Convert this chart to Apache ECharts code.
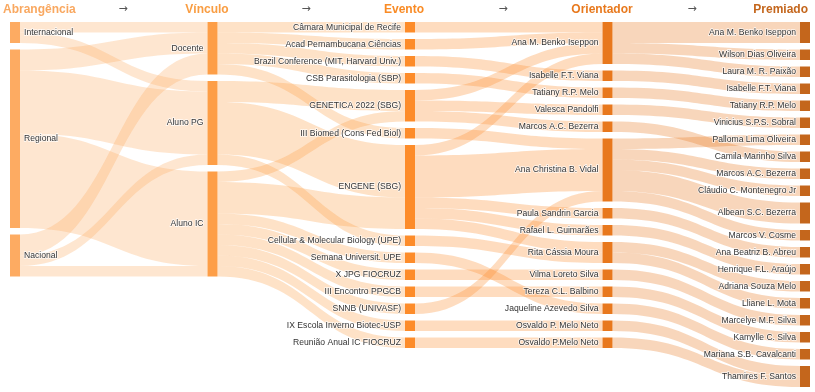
<!DOCTYPE html>
<html><head><meta charset="utf-8">
<script src="https://cdn.jsdelivr.net/npm/echarts@6/dist/echarts.min.js"></script>
<style>html,body{margin:0;padding:0;background:#fff}#c{width:815px;height:392px}</style>
</head><body><div id="c"></div>
<script>
const headers = ['Abrangência', 'Vínculo', 'Evento', 'Orientador', 'Premiado'];
const abrangencia = ['Internacional', 'Regional', 'Nacional'];
const vinculo = ['Docente', 'Aluno PG', 'Aluno IC'];
const evento = ['Câmara Municipal de Recife', 'Acad Pernambucana Ciências', 'Brazil Conference (MIT, Harvard Univ.)',
  'CSB Parasitologia (SBP)', 'GENETICA 2022 (SBG)', 'III Biomed (Cons Fed Biol)', 'ENGENE (SBG)',
  'Cellular & Molecular Biology (UPE)', 'Semana Universit. UPE', 'X JPG FIOCRUZ', 'III Encontro PPGCB',
  'SNNB (UNIVASF)', 'IX Escola Inverno Biotec-USP', 'Reunião Anual IC FIOCRUZ'];
const orientador = ['Ana M. Benko Iseppon', 'Isabelle F.T. Viana', 'Tatiany R.P. Melo', 'Valesca Pandolfi',
  'Marcos A.C. Bezerra', 'Ana Christina B. Vidal', 'Paula Sandrin Garcia', 'Rafael L. Guimarães',
  'Rita Cássia Moura', 'Vilma Loreto Silva', 'Tereza C.L. Balbino', 'Jaqueline Azevedo Silva',
  'Osvaldo P. Melo Neto', 'Osvaldo P.Melo Neto'];
const premiado = ['Ana M. Benko Iseppon', 'Wilson Dias Oliveira', 'Laura M. R. Paixão', 'Isabelle F.T. Viana',
  'Tatiany R.P. Melo', 'Vinicius S.P.S. Sobral', 'Palloma Lima Oliveira', 'Camila Marinho Silva',
  'Marcos A.C. Bezerra', 'Cláudio C. Montenegro Jr', 'Albean S.C. Bezerra', 'Marcos V. Cosme',
  'Ana Beatriz B. Abreu', 'Henrique F.L. Araújo', 'Adriana Souza Melo', 'Lliane L. Mota',
  'Marcelye M.F. Silva', 'Kamylle C. Silva', 'Mariana S.B. Cavalcanti', 'Thamires F. Santos'];

// [source, target, value]
const linksAbrVin = [
  ['Internacional', 'Docente', 1], ['Internacional', 'Aluno PG', 1],
  ['Regional', 'Docente', 2], ['Regional', 'Aluno PG', 6], ['Regional', 'Aluno IC', 9],
  ['Nacional', 'Docente', 2], ['Nacional', 'Aluno PG', 1], ['Nacional', 'Aluno IC', 1]
];
const linksVinEve = [
  ['Docente', 'Câmara Municipal de Recife', 1], ['Docente', 'Acad Pernambucana Ciências', 1],
  ['Docente', 'Brazil Conference (MIT, Harvard Univ.)', 1], ['Docente', 'CSB Parasitologia (SBP)', 1],
  ['Docente', 'III Biomed (Cons Fed Biol)', 1],
  ['Aluno PG', 'GENETICA 2022 (SBG)', 2], ['Aluno PG', 'ENGENE (SBG)', 5],
  ['Aluno PG', 'Cellular & Molecular Biology (UPE)', 1],
  ['Aluno IC', 'GENETICA 2022 (SBG)', 1], ['Aluno IC', 'ENGENE (SBG)', 3],
  ['Aluno IC', 'Semana Universit. UPE', 1], ['Aluno IC', 'X JPG FIOCRUZ', 1],
  ['Aluno IC', 'III Encontro PPGCB', 1], ['Aluno IC', 'SNNB (UNIVASF)', 1],
  ['Aluno IC', 'IX Escola Inverno Biotec-USP', 1], ['Aluno IC', 'Reunião Anual IC FIOCRUZ', 1]
];
const linksEveOri = [
  ['Câmara Municipal de Recife', 'Ana M. Benko Iseppon', 1], ['Acad Pernambucana Ciências', 'Ana M. Benko Iseppon', 1],
  ['Brazil Conference (MIT, Harvard Univ.)', 'Isabelle F.T. Viana', 1], ['CSB Parasitologia (SBP)', 'Tatiany R.P. Melo', 1],
  ['GENETICA 2022 (SBG)', 'Ana M. Benko Iseppon', 1], ['GENETICA 2022 (SBG)', 'Valesca Pandolfi', 1],
  ['GENETICA 2022 (SBG)', 'Marcos A.C. Bezerra', 1],
  ['III Biomed (Cons Fed Biol)', 'Ana Christina B. Vidal', 1],
  ['ENGENE (SBG)', 'Ana M. Benko Iseppon', 1], ['ENGENE (SBG)', 'Ana Christina B. Vidal', 4],
  ['ENGENE (SBG)', 'Paula Sandrin Garcia', 1], ['ENGENE (SBG)', 'Rafael L. Guimarães', 1],
  ['ENGENE (SBG)', 'Rita Cássia Moura', 1],
  ['Cellular & Molecular Biology (UPE)', 'Rita Cássia Moura', 1], ['Semana Universit. UPE', 'Jaqueline Azevedo Silva', 1],
  ['X JPG FIOCRUZ', 'Vilma Loreto Silva', 1], ['III Encontro PPGCB', 'Tereza C.L. Balbino', 1],
  ['SNNB (UNIVASF)', 'Ana Christina B. Vidal', 1], ['IX Escola Inverno Biotec-USP', 'Osvaldo P. Melo Neto', 1],
  ['Reunião Anual IC FIOCRUZ', 'Osvaldo P.Melo Neto', 1]
];
const linksOriPre = [
  ['Ana M. Benko Iseppon', 'Ana M. Benko Iseppon', 2], ['Ana M. Benko Iseppon', 'Wilson Dias Oliveira', 1],
  ['Ana M. Benko Iseppon', 'Laura M. R. Paixão', 1], ['Isabelle F.T. Viana', 'Isabelle F.T. Viana', 1],
  ['Tatiany R.P. Melo', 'Tatiany R.P. Melo', 1], ['Valesca Pandolfi', 'Vinicius S.P.S. Sobral', 1],
  ['Marcos A.C. Bezerra', 'Camila Marinho Silva', 1],
  ['Ana Christina B. Vidal', 'Palloma Lima Oliveira', 1], ['Ana Christina B. Vidal', 'Marcos A.C. Bezerra', 1],
  ['Ana Christina B. Vidal', 'Cláudio C. Montenegro Jr', 1], ['Ana Christina B. Vidal', 'Albean S.C. Bezerra', 2],
  ['Ana Christina B. Vidal', 'Marcos V. Cosme', 1],
  ['Paula Sandrin Garcia', 'Ana Beatriz B. Abreu', 1], ['Rafael L. Guimarães', 'Henrique F.L. Araújo', 1],
  ['Rita Cássia Moura', 'Adriana Souza Melo', 1], ['Rita Cássia Moura', 'Lliane L. Mota', 1],
  ['Vilma Loreto Silva', 'Marcelye M.F. Silva', 1], ['Tereza C.L. Balbino', 'Kamylle C. Silva', 1],
  ['Jaqueline Azevedo Silva', 'Mariana S.B. Cavalcanti', 1],
  ['Osvaldo P. Melo Neto', 'Thamires F. Santos', 1], ['Osvaldo P.Melo Neto', 'Thamires F. Santos', 1]
];

const columns = [abrangencia, vinculo, evento, orientador, premiado];
const stages = [linksAbrVin, linksVinEve, linksEveOri, linksOriPre];
const nodeColors = ['#fdab62', '#fd9e47', '#fd8c2a', '#e8781d', '#c4661c'];
const headColors = ['#f9a860', '#f99d42', '#f98b25', '#e8791d', '#c4661c'];

const key = (c, n) => c + '|' + n;
const nodes = [];
columns.forEach((col, c) => col.forEach(n => nodes.push({ name: key(c, n), depth: c })));
const links = [];
stages.forEach((st, s) => st.forEach(([a, b, v]) => links.push({ source: key(s, a), target: key(s + 1, b), value: v })));

const levels = nodeColors.map((col, i) => ({
  depth: i,
  itemStyle: { color: col, borderWidth: 0 },
  lineStyle: { color: col, opacity: 0.3 },
  label: { position: i === 0 ? 'right' : 'left' }
}));

const headX = [3, 207, 404, 602, 808];
const headAlign = ['left', 'center', 'center', 'center', 'right'];
const arrowX = [123, 306, 503, 692];
const graphics = [];
headers.forEach((h, i) => graphics.push({
  type: 'text', x: headX[i], y: 4,
  style: { text: h, fill: headColors[i], font: 'bold 12px "Liberation Sans", Arial, sans-serif', textAlign: headAlign[i] }
}));
arrowX.forEach(x => graphics.push({
  type: 'text', x: x, y: 4,
  style: { text: '→', fill: '#555', font: '11px "DejaVu Sans", sans-serif', textAlign: 'center' }
}));

const chart = echarts.init(document.getElementById('c'), null, { renderer: 'canvas' });
chart.setOption({
  animation: false,
  graphic: graphics,
  series: [{
    type: 'sankey',
    left: 10, right: 5, top: 22, bottom: 5,
    nodeWidth: 10, nodeGap: 6.5,
    layoutIterations: 0,
    draggable: false,
    emphasis: { disabled: true },
    data: nodes, links: links,
    levels: levels,
    lineStyle: { curveness: 0.5 },
    label: {
      fontSize: 8.6, color: '#333', distance: 4,
      fontFamily: '"Liberation Sans", Arial, sans-serif',
      textBorderColor: 'rgba(255,255,255,0.8)', textBorderWidth: 1.5,
      formatter: p => p.name.split('|')[1]
    }
  }]
});
</script></body></html>
